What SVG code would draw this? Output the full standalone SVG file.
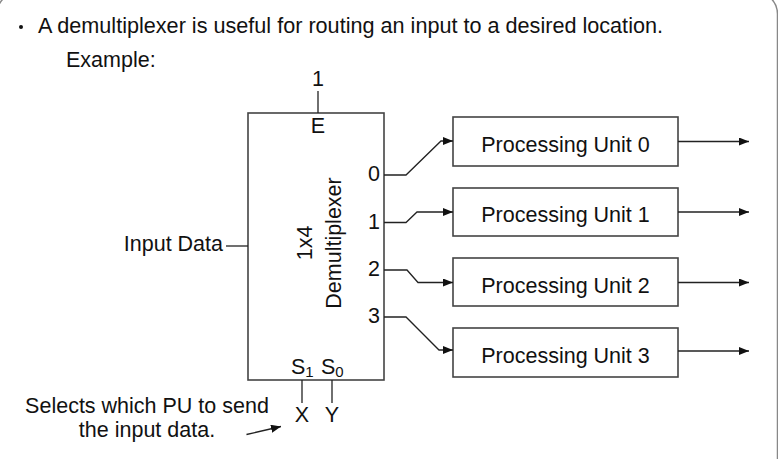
<svg xmlns="http://www.w3.org/2000/svg" width="778" height="459" viewBox="0 0 778 459">
<style>
text{font-family:"Liberation Sans",Arial,sans-serif;fill:#111;}
.t{font-size:21.5px;}
.box{fill:#fff;stroke:#444;stroke-width:1.6;}
.ln{fill:none;stroke:#222;stroke-width:1.3;}
</style>
<defs>
<marker id="ah" viewBox="0 0 10 8" refX="10" refY="4" markerWidth="10" markerHeight="8" markerUnits="userSpaceOnUse" orient="auto">
<path d="M0,0 L10,4 L0,8 Z" fill="#111"/>
</marker>
</defs>
<rect width="778" height="459" fill="#fff"/>
<rect x="-3" y="-8" width="780.5" height="500" rx="22" fill="none" stroke="#888" stroke-width="1.5"/>
<g id="header">
<circle cx="21" cy="27" r="2" fill="#111"/>
<text class="t" x="38" y="33" textLength="625" lengthAdjust="spacingAndGlyphs">A demultiplexer is useful for routing an input to a desired location.</text>
<text class="t" x="66" y="67">Example:</text>
</g>
<g id="demux">
<rect class="box" x="248" y="113" width="136" height="267"/>
<text class="t" x="318" y="133" text-anchor="middle">E</text>
<text class="t" transform="translate(311.5,243) rotate(-90)" text-anchor="middle">1x4</text>
<text class="t" transform="translate(340.5,243) rotate(-90)" text-anchor="middle">Demultiplexer</text>
<text class="t" x="380" y="181" text-anchor="end">0</text>
<text class="t" x="380" y="228.5" text-anchor="end">1</text>
<text class="t" x="380" y="276" text-anchor="end">2</text>
<text class="t" x="380" y="323" text-anchor="end">3</text>
<text class="t" x="291" y="373.5">S<tspan font-size="15" dy="3">1</tspan></text>
<text class="t" x="321" y="373.5">S<tspan font-size="15" dy="3">0</tspan></text>
</g>
<g id="enable">
<text class="t" x="318" y="85.5" text-anchor="middle">1</text>
</g>
<g id="input">
<text class="t" x="223" y="251" text-anchor="end">Input Data</text>
</g>
<g id="select">
<text class="t" x="302" y="422" text-anchor="middle">X</text>
<text class="t" x="332" y="422" text-anchor="middle">Y</text>
<text class="t" x="147" y="413" text-anchor="middle">Selects which PU to send</text>
<text class="t" x="147" y="437" text-anchor="middle">the input data.</text>
</g>
<g id="pu0">
<rect class="box" x="453" y="117" width="225" height="49"/>
<text class="t" x="565.5" y="151.5" text-anchor="middle">Processing Unit 0</text>
</g>
<g id="pu1">
<rect class="box" x="453" y="188" width="225" height="48"/>
<text class="t" x="565.5" y="222" text-anchor="middle">Processing Unit 1</text>
</g>
<g id="pu2">
<rect class="box" x="453" y="258" width="225" height="48"/>
<text class="t" x="565.5" y="292.5" text-anchor="middle">Processing Unit 2</text>
</g>
<g id="pu3">
<rect class="box" x="453" y="328" width="225" height="49"/>
<text class="t" x="565.5" y="362.5" text-anchor="middle">Processing Unit 3</text>
</g>
<g id="connectors">
<path class="ln" d="M318,91 V113"/>
<path class="ln" d="M226,246 H248"/>
<path class="ln" d="M302,380 V403"/>
<path class="ln" d="M332,380 V403"/>
<path class="ln" d="M246.5,434.5 L281,426.5" marker-end="url(#ah)"/>
<path class="ln" d="M384,175 H406 L441,141 H453" marker-end="url(#ah)"/>
<path class="ln" d="M384,222.5 H406 L417,212 H453" marker-end="url(#ah)"/>
<path class="ln" d="M384,270 H407 L418,282.5 H453" marker-end="url(#ah)"/>
<path class="ln" d="M384,317 H406 L439,350 H453" marker-end="url(#ah)"/>
<path class="ln" d="M678,141.5 H749" marker-end="url(#ah)"/>
<path class="ln" d="M678,212 H749" marker-end="url(#ah)"/>
<path class="ln" d="M678,282.5 H749" marker-end="url(#ah)"/>
<path class="ln" d="M678,351 H749" marker-end="url(#ah)"/>
</g>
</svg>
